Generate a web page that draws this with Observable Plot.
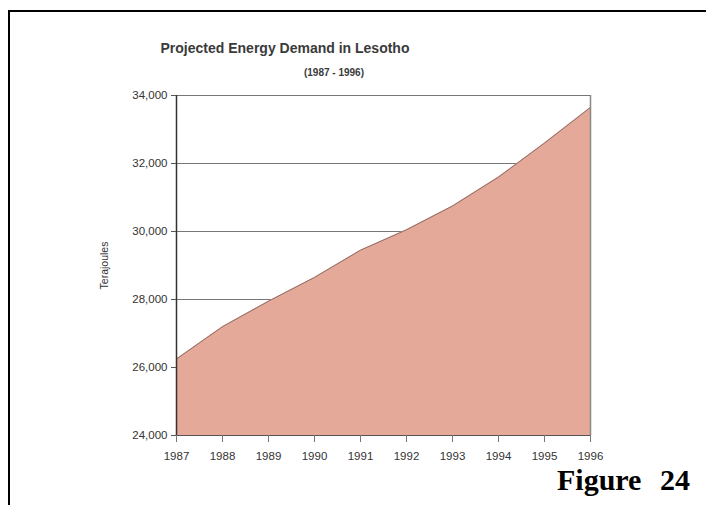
<!DOCTYPE html>
<html>
<head>
<meta charset="utf-8">
<script src="https://cdn.jsdelivr.net/npm/d3@7"></script>
<script src="https://cdn.jsdelivr.net/npm/@observablehq/plot@0.6"></script>
<style>
  html, body { margin: 0; padding: 0; background: #fff; }
  #page { position: relative; width: 706px; height: 505px; overflow: hidden; font-family: "Liberation Sans", Arial, sans-serif; }
  #frame { position: absolute; left: 8px; top: 10px; width: 720px; height: 520px; border-left: 2px solid #000; border-top: 2px solid #000; }
  #title { position: absolute; left: 0; width: 570px; top: 40px; text-align: center; font-size: 14px; font-weight: bold; color: #3a3a3a; }
  #subtitle { position: absolute; left: 0; width: 668px; top: 67px; text-align: center; font-size: 10px; font-weight: bold; color: #3a3a3a; }
  #figure { position: absolute; left: 557px; top: 463px; font-family: "Liberation Serif", "Times New Roman", serif; font-weight: bold; font-size: 30px; color: #000; word-spacing: 11px; }
  #chart { position: absolute; left: 0; top: 0; }
</style>
</head>
<body>
<div id="page">
  <div id="frame"></div>
  <div id="chart"></div>
  <div id="title">Projected Energy Demand in Lesotho</div>
  <div id="subtitle">(1987 - 1996)</div>
  <div id="figure">Figure 24</div>
</div>
<script>
// Projected energy demand, terajoules per year
const years = [1987, 1988, 1989, 1990, 1991, 1992, 1993, 1994, 1995, 1996];
const demand = [26250, 27200, 27950, 28650, 29450, 30050, 30750, 31600, 32600, 33650];

// Axis ticks
const yTicks = [24000, 26000, 28000, 30000, 32000, 34000];
const yFloor = 24000;
const yCeil = 34000;

const data = years.map((year, i) => ({year, value: demand[i]}));

const chart = Plot.plot({
  width: 706,
  height: 505,
  marginLeft: 176,
  marginRight: 116,
  marginTop: 95,
  marginBottom: 70,
  style: {fontFamily: "'Liberation Sans', Arial, sans-serif", fontSize: "11.5px", color: "#333", background: "transparent"},
  x: {domain: [years[0], years[years.length - 1]]},
  y: {domain: [yFloor, yCeil]},
  marks: [
    Plot.gridY(yTicks, {stroke: "#777", strokeOpacity: 1, strokeWidth: 1}),
    Plot.areaY(data, {x: "year", y1: yFloor, y2: "value", fill: "#e5a999", curve: "linear"}),
    Plot.lineY(data, {x: "year", y: "value", stroke: "#8c6f6a", strokeWidth: 1}),
    Plot.ruleX([years[years.length - 1]], {stroke: "#888", strokeWidth: 1.5}),
    Plot.ruleX([years[0]], {stroke: "#333", strokeWidth: 1.5}),
    Plot.ruleY([yFloor], {stroke: "#555", strokeWidth: 1}),
    Plot.axisY({ticks: yTicks, tickFormat: d => d3.format(",")(d), tickSize: 5, tickPadding: 4, stroke: "#555",
      label: "Terajoules", labelAnchor: "center", labelArrow: "none", labelOffset: 76}),
    Plot.axisX({ticks: years, tickFormat: d => String(d), tickSize: 7, tickPadding: 9, stroke: "#777", label: null})
  ]
});

// Y-axis label a touch smaller than the tick labels
chart.querySelectorAll('g[aria-label="y-axis label"] text').forEach(t => t.setAttribute("font-size", "10.5px"));

document.getElementById("chart").appendChild(chart);
</script>
</body>
</html>
